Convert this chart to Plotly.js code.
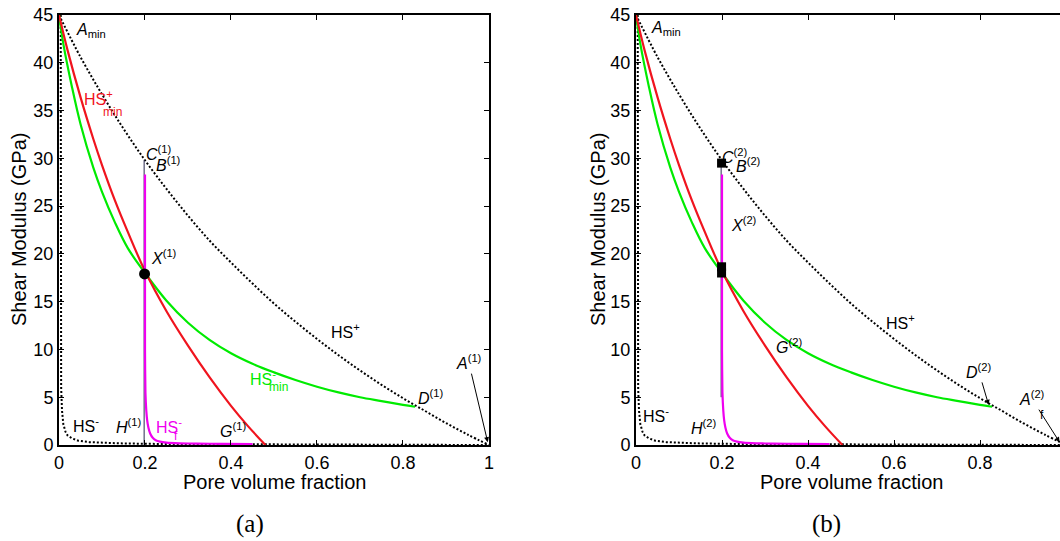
<!DOCTYPE html>
<html><head><meta charset="utf-8">
<script src="https://cdn.plot.ly/plotly-3.0.1.min.js"></script>
<style>html,body{margin:0;padding:0;background:#fff}#chart{width:1060px;height:541px}</style>
</head><body><div id="chart"></div>
<script>
// ---- data ----
const hsUpperX = [0, 0.05, 0.1, 0.15, 0.2, 0.25, 0.3, 0.35, 0.4, 0.45, 0.5, 0.55, 0.6, 0.65, 0.7, 0.75, 0.8, 0.85, 0.9, 0.95, 1.0];
const hsUpperY = [45, 40.6, 36.7, 33.1, 29.8, 26.8, 24.0, 21.4, 19.1, 16.9, 14.8, 12.9, 11.1, 9.4, 7.8, 6.3, 4.9, 3.6, 2.3, 1.1, 0];

const hsLowerX = [0.004, 0.004, 0.005, 0.007, 0.01, 0.015, 0.02, 0.03, 0.045, 0.07, 0.1, 0.15, 0.25, 0.4, 0.6, 0.8, 1.0];
const hsLowerY = [45, 12, 6, 3.6, 2.2, 1.4, 1.0, 0.7, 0.45, 0.3, 0.22, 0.16, 0.1, 0.07, 0.05, 0.03, 0];

const hsMinPlusX = [0, 0.02, 0.05, 0.08, 0.1, 0.13, 0.16, 0.2, 0.25, 0.3, 0.35, 0.4, 0.44, 0.48];
const hsMinPlusY = [45, 41.3, 36.4, 32.0, 29.3, 25.6, 22.3, 18.2, 14.0, 10.4, 7.1, 4.1, 1.95, 0];

const hsMinMinusX = [0, 0.01, 0.03, 0.05, 0.08, 0.1, 0.13, 0.16, 0.2, 0.25, 0.3, 0.35, 0.4, 0.45, 0.5, 0.55, 0.6, 0.65, 0.7, 0.75, 0.8, 0.828];
const hsMinMinusY = [45, 42.0, 37.5, 33.6, 29.0, 26.5, 23.3, 20.6, 18.0, 15.1, 12.8, 11.0, 9.6, 8.5, 7.6, 6.8, 6.1, 5.5, 5.0, 4.6, 4.2, 4.0];

const hsFluidX = [0.2, 0.2, 0.201, 0.203, 0.205, 0.208, 0.212, 0.218, 0.225, 0.235, 0.25, 0.28, 0.32, 0.38, 0.45];
const hsFluidY = [28.3, 10, 5.5, 3.6, 2.6, 1.8, 1.2, 0.75, 0.5, 0.35, 0.25, 0.18, 0.14, 0.12, 0.1];

const guideAX = [0.198, 0.198];
const guideAY = [29.8, 0];
const guideBX = [0.198, 0.198];
const guideBY = [29.5, 5];

const pointAX = [0.199];
const pointAY = [17.9];
const pointBX = [0.199, 0.199, 0.199];
const pointBY = [29.5, 18.0, 18.65];

const xTicks = [0, 0.2, 0.4, 0.6, 0.8, 1];
const xTickText = ['0', '0.2', '0.4', '0.6', '0.8', '1'];
const yTicks = [0, 5, 10, 15, 20, 25, 30, 35, 40, 45];
const yTickText = ['0', '5', '10', '15', '20', '25', '30', '35', '40', '45'];

// ---- styles ----
const RED = 'rgb(240,20,30)', GREEN = 'rgb(0,235,0)', MAG = 'rgb(240,0,240)';
const FONT = 'Liberation Sans, Arial, sans-serif';
const DOTS = '2px,2px';

function panel(xa, ya) {
  return [
    {x: hsLowerX, y: hsLowerY, xaxis: xa, yaxis: ya, mode: 'lines', line: {color: 'black', width: 2, dash: DOTS}},
    {x: hsUpperX, y: hsUpperY, xaxis: xa, yaxis: ya, mode: 'lines', line: {color: 'black', width: 2, dash: DOTS, shape: 'spline'}},
    {x: hsMinMinusX, y: hsMinMinusY, xaxis: xa, yaxis: ya, mode: 'lines', line: {color: GREEN, width: 2.2, shape: 'spline'}},
    {x: hsMinPlusX, y: hsMinPlusY, xaxis: xa, yaxis: ya, mode: 'lines', line: {color: RED, width: 2.2, shape: 'spline'}},
    {x: xa === 'x' ? guideAX : guideBX, y: xa === 'x' ? guideAY : guideBY, xaxis: xa, yaxis: ya, mode: 'lines', line: {color: '#2a2a50', width: 1}},
    {x: hsFluidX, y: hsFluidY, xaxis: xa, yaxis: ya, mode: 'lines', line: {color: MAG, width: 2.2, shape: 'spline', smoothing: 0.5}},
  ];
}

const traces = [].concat(
  panel('x', 'y'),
  panel('x2', 'y2'),
  [
    {x: pointAX, y: pointAY, xaxis: 'x', yaxis: 'y', mode: 'markers', marker: {color: 'black', size: 11, symbol: 'circle'}},
    {x: pointBX, y: pointBY, xaxis: 'x2', yaxis: 'y2', mode: 'markers', marker: {color: 'black', size: 9, symbol: 'square'}}
  ]
);

function ax(domain, range) {
  return {
    domain: domain, range: range, tickvals: xTicks, ticktext: xTickText,
    ticks: 'inside', ticklen: 5, tickwidth: 1, tickcolor: 'black',
    showline: true, linewidth: 2, linecolor: 'black', mirror: 'ticks',
    showgrid: false, zeroline: false, fixedrange: true,
    tickfont: {family: FONT, size: 18, color: 'black'}
  };
}
function ay(anchor, mirror) {
  return {
    domain: [0.17745, 0.97227], range: [0, 45], tickvals: yTicks, ticktext: yTickText, anchor: anchor,
    ticks: 'inside', ticklen: 5, tickwidth: 1, tickcolor: 'black',
    showline: true, linewidth: 2, linecolor: 'black', mirror: mirror,
    showgrid: false, zeroline: false, fixedrange: true,
    tickfont: {family: FONT, size: 18, color: 'black'}
  };
}

function t(xref, yref, x, y, text, opts) {
  return Object.assign({xref: xref, yref: yref, x: x, y: y, text: text, showarrow: false,
    xanchor: 'left', yanchor: 'middle', font: {family: FONT, size: 16, color: 'black'}}, opts || {});
}
function p(x, y, text, size, family, angle) {
  return {xref: 'paper', yref: 'paper', x: x / 1060, y: (541 - y) / 541, text: text, showarrow: false,
    xanchor: 'center', yanchor: 'middle', textangle: angle || 0,
    font: {family: family || FONT, size: size, color: 'black'}};
}
const SERIF = 'Liberation Serif, Times New Roman, serif';

const ann = [
  // axis titles and panel letters
  p(19, 230, 'Shear Modulus (GPa)', 20, FONT, -90),
  p(598, 230, 'Shear Modulus (GPa)', 20, FONT, -90),
  p(274, 482, 'Pore volume fraction', 20),
  p(851, 482, 'Pore volume fraction', 20),
  p(250, 524, '(a)', 25, SERIF),
  p(826, 524, '(b)', 25, SERIF),

  // panel (a)
  t('x', 'y', 0.036, 43.4, '<i>A</i><sub>min</sub>'),
  t('x', 'y', 0.054, 36.3, 'HS<sup>+</sup>', {font: {family: FONT, size: 16, color: RED}}),
  t('x', 'y', 0.097, 34.8, 'min', {font: {family: FONT, size: 12, color: RED}}),
  t('x', 'y', 0.198, 30.6, '<i>C</i><sup>(1)</sup>'),
  t('x', 'y', 0.222, 29.4, '<i>B</i><sup>(1)</sup>'),
  t('x', 'y', 0.21, 19.7, '<i>X</i><sup>(1)</sup>'),
  t('x', 'y', 0.628, 11.9, 'HS<sup>+</sup>'),
  t('x', 'y', 0.44, 7.0, 'HS<sup>-</sup>', {font: {family: FONT, size: 16, color: GREEN}}),
  t('x', 'y', 0.483, 6.1, 'min', {font: {family: FONT, size: 12, color: GREEN}}),
  t('x', 'y', 0.83, 5.0, '<i>D</i><sup>(1)</sup>'),
  {xref: 'x', yref: 'y', x: 0.997, y: 0.3, ax: -19, ay: -80, text: '<i>A</i><sup>(1)</sup>', showarrow: true,
   arrowhead: 2, arrowsize: 1, arrowwidth: 1, arrowcolor: 'black', font: {family: FONT, size: 16, color: 'black'}},
  t('x', 'y', 0.028, 2.1, 'HS<sup>-</sup>'),
  t('x', 'y', 0.198, 2.0, '<i>H</i><sup>(1)</sup>', {xanchor: 'right'}),
  t('x', 'y', 0.222, 2.0, 'HS<sup>-</sup>', {font: {family: FONT, size: 16, color: MAG}}),
  t('x', 'y', 0.262, 0.95, 'f', {font: {family: FONT, size: 12, color: MAG}}),
  t('x', 'y', 0.37, 1.6, '<i>G</i><sup>(1)</sup>'),

  // panel (b)
  t('x2', 'y2', 0.03, 43.6, '<i>A</i><sub>min</sub>'),
  t('x2', 'y2', 0.195, 30.2, '<i>C</i><sup>(2)</sup>'),
  t('x2', 'y2', 0.228, 29.3, '<i>B</i><sup>(2)</sup>'),
  t('x2', 'y2', 0.216, 23.1, '<i>X</i><sup>(2)</sup>'),
  t('x2', 'y2', 0.577, 12.9, 'HS<sup>+</sup>'),
  t('x2', 'y2', 0.32, 10.4, '<i>G</i><sup>(2)</sup>'),
  {xref: 'x2', yref: 'y2', x: 0.82, y: 4.2, ax: -10, ay: -34, text: '<i>D</i><sup>(2)</sup>', showarrow: true,
   arrowhead: 2, arrowsize: 1, arrowwidth: 1, arrowcolor: 'black', font: {family: FONT, size: 16, color: 'black'}},
  {xref: 'x2', yref: 'y2', x: 0.985, y: 0.3, ax: -28, ay: -44, text: '<i>A</i><sup>(2)</sup>', showarrow: true,
   arrowhead: 2, arrowsize: 1, arrowwidth: 1, arrowcolor: 'black', font: {family: FONT, size: 16, color: 'black'}},
  t('x2', 'y2', 0.935, 3.15, 'f', {font: {family: FONT, size: 12, color: 'black'}}),
  t('x2', 'y2', 0.012, 3.1, 'HS<sup>-</sup>'),
  t('x2', 'y2', 0.124, 1.9, '<i>H</i><sup>(2)</sup>')
];

const layout = {
  width: 1060, height: 541, margin: {l: 0, r: 0, t: 0, b: 0},
  paper_bgcolor: 'white', plot_bgcolor: 'white', showlegend: false,
  font: {family: FONT, color: 'black'},
  xaxis: Object.assign(ax([0.05566, 0.46132], [0, 1]), {anchor: 'y'}),
  yaxis: ay('x', 'ticks'),
  xaxis2: Object.assign(ax([0.6, 1], [0, 0.986]), {anchor: 'y2'}),
  yaxis2: ay('x2', false),
  annotations: ann
};

Plotly.newPlot('chart', traces, layout, {staticPlot: true, displayModeBar: false});
</script></body></html>
